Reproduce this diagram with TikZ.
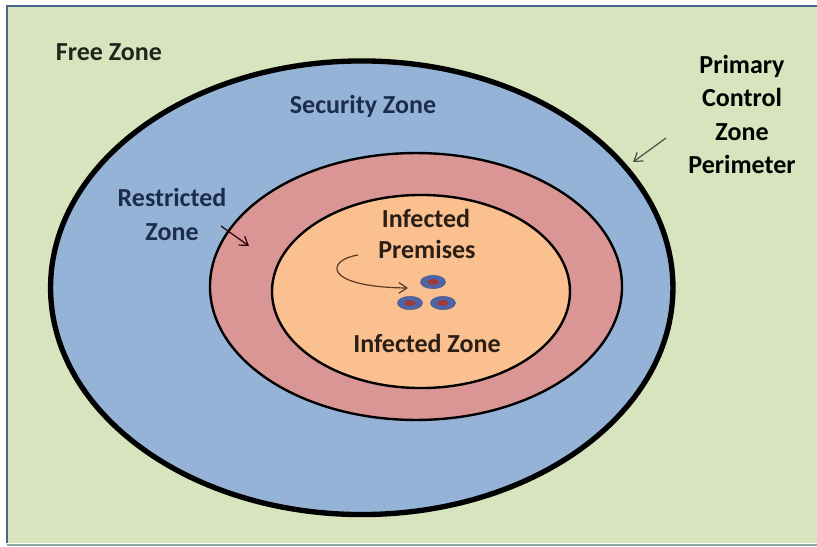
\documentclass[tikz,border=0pt]{standalone}
\usepackage{fontspec}
\setmainfont{Carlito}
\usetikzlibrary{arrows.meta}
\definecolor{bgGreen}{HTML}{D7E4BD}
\definecolor{frameBlue}{HTML}{4A6494}
\definecolor{bottomGray}{HTML}{8EA6A6}
\definecolor{zoneBlue}{HTML}{95B3D7}
\definecolor{zoneRed}{HTML}{D99694}
\definecolor{zoneOrange}{HTML}{FAC090}
\definecolor{dotBlue}{HTML}{4F64A4}
\definecolor{dotRed}{HTML}{9E3A3A}
\definecolor{navyText}{HTML}{1C2C4C}
\definecolor{darkText}{HTML}{1E261C}
\definecolor{brownText}{HTML}{2B1E14}
\definecolor{arrowBrown}{HTML}{5A3A22}
\begin{document}
\begin{tikzpicture}[x=0.75pt,y=-0.75pt,
  lbl/.style={font=\bfseries\fontsize{19.5}{24}\selectfont, anchor=base, inner sep=0pt},
  ring/.style={draw=black, line width=1.8pt},
  pointer/.style={line width=0.9pt, -{Straight Barb[length=6pt,width=8pt]}},
  premdot/.style={fill=dotBlue, draw=dotBlue!80!black, line width=0.3pt},
  premcore/.style={fill=dotRed}]
\useasboundingbox (0,0) rectangle (817,546);
\fill[white] (0,0) rectangle (817,546);
\fill[bgGreen] (7,6) rectangle (817,543);
\draw[frameBlue, line width=1.5pt] (7,543) -- (7,6) -- (817,6);
\draw[bottomGray, line width=1.5pt] (7,544.5) -- (817,544.5);

% zones
\draw[fill=zoneBlue, draw=black, line width=4pt] (361.75,287.75) ellipse [x radius=233.4pt, y radius=170.1pt];
\draw[ring, fill=zoneRed] (416,286.5) ellipse [x radius=154.5pt, y radius=100.1pt];
\draw[ring, fill=zoneOrange] (421,291.5) ellipse [x radius=111.75pt, y radius=72.4pt];

% infected premises dots
\foreach \n/\px/\py in {p1/433/282, p2/410/303, p3/443/303}{
  \fill[premdot] (\px,\py) ellipse [x radius=9.4pt, y radius=5pt];
  \fill[premcore] (\px,\py) ellipse [x radius=4.2pt, y radius=2.2pt];
  \coordinate (\n) at (\px,\py);
}

% labels
\node[lbl, text=darkText] (free) at (109,60) {Free Zone};
\node[lbl, text=navyText] (sec) at (363,113) {Security Zone};
\node[lbl, text=navyText] (restr1) at (172,206) {Restricted};
\node[lbl, text=navyText] (restr2) at (172,240) {Zone};
\node[lbl, text=brownText] (inf1) at (426,227) {Infected};
\node[lbl, text=brownText] (inf2) at (427,258) {Premises};
\node[lbl, text=brownText] (infz) at (427,352) {Infected Zone};
\node[lbl, text=black] (prim1) at (742,73) {Primary};
\node[lbl, text=black] (prim2) at (742,106) {Control};
\node[lbl, text=black] (prim3) at (742,140) {Zone};
\node[lbl, text=black] (prim4) at (742,173) {Perimeter};

% pointers
\coordinate (perimStart) at (666,138);
\coordinate (perimEnd) at (633,162);
\draw[pointer, draw=black!70] (perimStart) -- (perimEnd);
\coordinate (restrStart) at (221,226);
\coordinate (restrEnd) at (249,246);
\draw[pointer, draw=black!75!red!60!black] (restrStart) -- (restrEnd);
\coordinate (premStart) at (358,255);
\coordinate (premEnd) at (408,288);
\draw[pointer, draw=arrowBrown] (premStart) .. controls (326,260) and (322,287) .. (premEnd);
\end{tikzpicture}
\end{document}
